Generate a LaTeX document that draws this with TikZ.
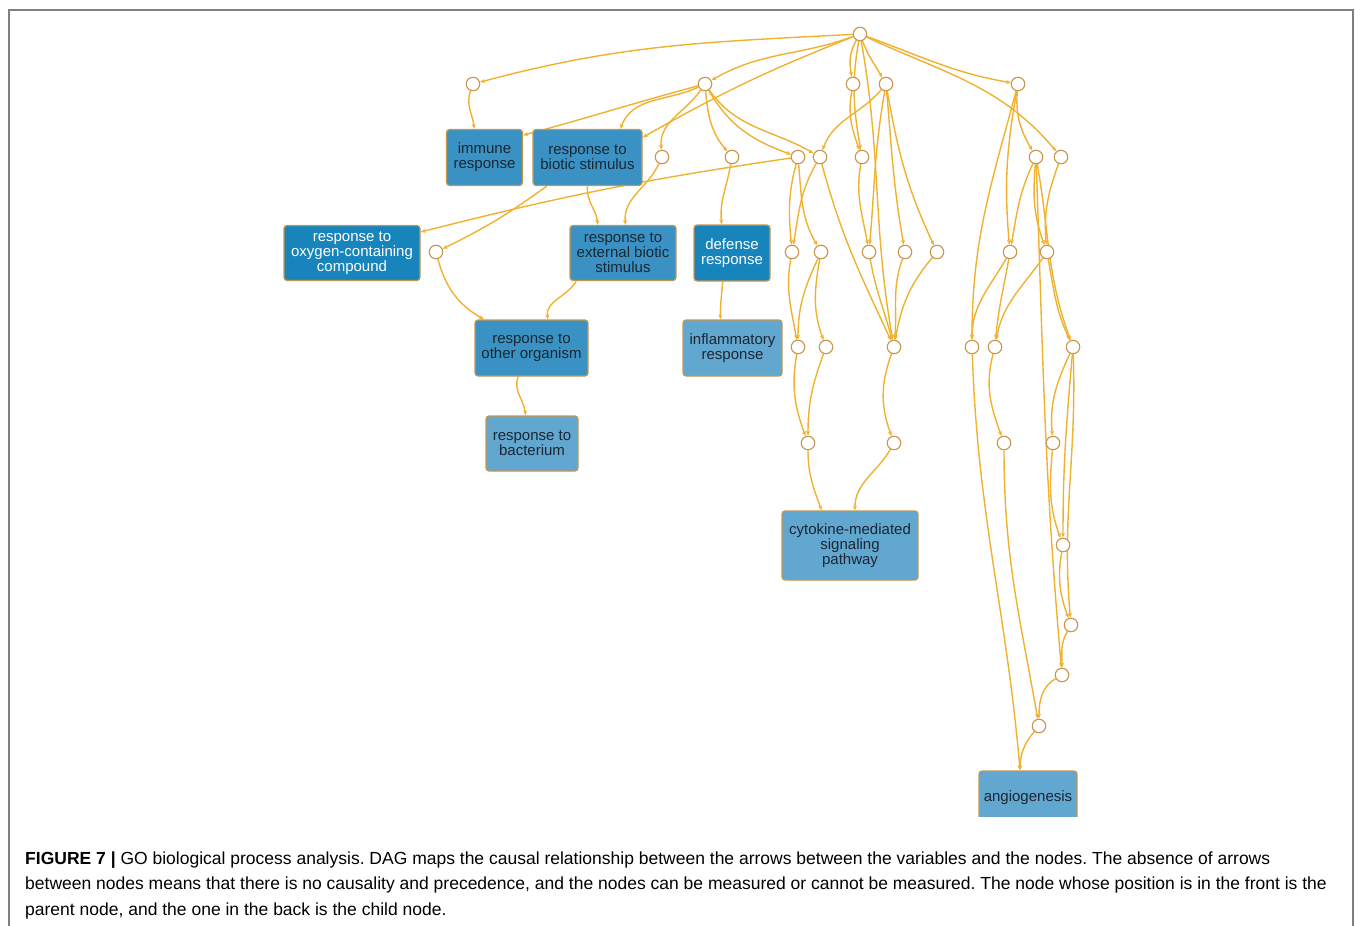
\documentclass[tikz,border=0pt]{standalone}
\usepackage{fontspec}
\setmainfont{Liberation Sans}
\usepackage{tikz}
\usetikzlibrary{arrows.meta,backgrounds}
\frenchspacing
\definecolor{edgegold}{HTML}{F0B12E}
\definecolor{ringtan}{HTML}{C8964E}
\definecolor{boxrim}{HTML}{C4974F}
\definecolor{godeep}{HTML}{1784BC}
\definecolor{gomid}{HTML}{3A92C4}
\definecolor{golite}{HTML}{62A7CF}
\definecolor{goink}{HTML}{1B2633}
\definecolor{framegray}{HTML}{808080}
\tikzset{
  term/.style={draw=boxrim,line width=1.2pt,rounded corners=3pt,align=center,inner sep=0pt,font=\fontsize{15}{15}\selectfont,text=goink},
  deep/.style={term,fill=godeep,text=white},
  mid/.style={term,fill=gomid},
  lite/.style={term,fill=golite},
  knot/.style={circle,draw=ringtan,fill=white,line width=1.1pt,minimum size=13.5pt,inner sep=0pt},
  link/.style={-{Stealth[length=5pt,width=4pt]},draw=edgegold,line width=1.4pt},
  capline/.style={anchor=base west,inner sep=0pt,font=\fontsize{17.5}{20}\selectfont,text=black},
}

\begin{document}
\begin{tikzpicture}[x=1pt,y=-1pt]
  \useasboundingbox (0,0) rectangle (1355,926);
  \draw[framegray,line width=1.5pt] (9,926) -- (9,10) -- (1353,10) -- (1353,926);

  % hubs
  \node[knot] (t0) at (860,34) {};
  \node[knot] (a1) at (473,84) {};
  \node[knot] (a2) at (705,84) {};
  \node[knot] (a3) at (853,84) {};
  \node[knot] (a4) at (886,84) {};
  \node[knot] (a5) at (1018,84) {};
  \node[knot] (b1) at (662,157) {};
  \node[knot] (b2) at (732,157) {};
  \node[knot] (b3) at (798,157) {};
  \node[knot] (b4) at (820,157) {};
  \node[knot] (b5) at (862,157) {};
  \node[knot] (b6) at (1036,157) {};
  \node[knot] (b7) at (1061,157) {};
  \node[knot] (c1) at (436,252) {};
  \node[knot] (c2) at (792,252) {};
  \node[knot] (c3) at (821,252) {};
  \node[knot] (c4) at (869,252) {};
  \node[knot] (c5) at (905,252) {};
  \node[knot] (c6) at (937,252) {};
  \node[knot] (c7) at (1010,252) {};
  \node[knot] (c8) at (1047,252) {};
  \node[knot] (d1) at (798,347) {};
  \node[knot] (d2) at (826,347) {};
  \node[knot] (d3) at (894,347) {};
  \node[knot] (d4) at (972,347) {};
  \node[knot] (d5) at (995,347) {};
  \node[knot] (d6) at (1073,347) {};
  \node[knot] (e1) at (808,443) {};
  \node[knot] (e2) at (894,443) {};
  \node[knot] (e3) at (1004,443) {};
  \node[knot] (e4) at (1053,443) {};
  \node[knot] (f1) at (1063,545) {};
  \node[knot] (g1) at (1071,625) {};
  \node[knot] (h1) at (1062,675) {};
  \node[knot] (i1) at (1039,726) {};

  % GO terms
  \node[mid,minimum width=76pt,minimum height=56pt] (imm) at (484.5,157.5) {immune\\response};
  \node[mid,minimum width=109pt,minimum height=56pt] (bio) at (587.5,157.5) {response to\\biotic stimulus};
  \node[deep,minimum width=136pt,minimum height=55pt] (oxy) at (352,253) {response to\\oxygen-containing\\compound};
  \node[mid,minimum width=106pt,minimum height=55pt] (ext) at (623,253) {response to\\external biotic\\stimulus};
  \node[deep,minimum width=76pt,minimum height=56pt] (def) at (732,253) {defense\\response};
  \node[mid,minimum width=113pt,minimum height=56pt] (oth) at (531.5,348) {response to\\other organism};
  \node[lite,minimum width=99pt,minimum height=56pt] (inf) at (732.5,348) {inflammatory\\response};
  \node[lite,minimum width=92pt,minimum height=55pt] (bac) at (532,443.5) {response to\\bacterium};
  \node[lite,minimum width=136pt,minimum height=69pt] (cyt) at (850,545.5) {cytokine-mediated\\signaling\\pathway};
  \begin{scope}
    \clip (900,700) rectangle (1150,816);
    \node[lite,minimum width=98pt,minimum height=54pt] (ang) at (1028,798) {angiogenesis};
  \end{scope}

  \begin{scope}[on background layer]
    % from the root
    \draw[link] (t0) to[out=183,in=15] (a1);
    \draw[link] (t0) to[out=200,in=30] (a2);
    \draw[link] (t0) to[bend right=4] (bio.20);
    \draw[link] (t0) to[out=240,in=100] (a3);
    \draw[link] (t0) to[out=-70,in=120] (a4);
    \draw[link] (t0) to[out=-100,in=100] (b5);
    \draw[link] (t0) to[out=-80,in=100] (d3);
    \draw[link] (t0) to[out=-20,in=170] (a5);
    \draw[link] (t0) to[out=-25,in=130] (b7);
    % left branch
    \draw[link] (a1) to[out=-110,in=95] (imm.110);
    \draw[link] (a2) to[out=195,in=15] (imm.30);
    \draw[link] (a2) to[out=205,in=70] (bio.41);
    \draw[link] (a2) to[out=235,in=95] (b1);
    \draw[link] (a2) to[out=-85,in=130] (b2);
    \draw[link] (a2) to[out=-60,in=160] (b3);
    \draw[link] (a2) to[out=-55,in=150] (b4);
    \draw[link] (bio.south) to[out=-95,in=95] (ext.132);
    \draw[link] (b1) to[out=-115,in=95] (ext.85);
    \draw[link] (bio.215) to[bend left=5] (c1);
    \draw[link] (b3) to[bend right=3] (oxy.17);
    \draw[link] (c1) to[out=-75,in=150] (oth.149);
    \draw[link] (ext.211) to[out=-120,in=100] (oth.60);
    \draw[link] (oth.-115) to[out=-110,in=95] (bac.103);
    \draw[link] (b2) to[out=-100,in=95] (def.110);
    \draw[link] (def.-108) to[out=-95,in=90] (inf.113);
    % middle branch
    \draw[link] (a3) to[out=-100,in=110] (b5);
    \draw[link] (a4) to[out=-130,in=70] (b4);
    \draw[link] (a4) to[out=-100,in=85] (c4);
    \draw[link] (a4) to[out=-85,in=100] (c5);
    \draw[link] (a4) to[out=-80,in=115] (c6);
    \draw[link] (b3) to[out=-105,in=95] (c2);
    \draw[link] (b3) to[out=-85,in=120] (c3);
    \draw[link] (b4) to[out=-120,in=80] (c2);
    \draw[link] (b4) to[out=-75,in=115] (d3);
    \draw[link] (b5) to[out=-100,in=100] (c4);
    \draw[link] (c2) to[out=-100,in=100] (d1);
    \draw[link] (c3) to[out=-115,in=90] (d1);
    \draw[link] (c3) to[out=-100,in=110] (d2);
    \draw[link] (c4) to[out=-80,in=105] (d3);
    \draw[link] (c5) to[out=-110,in=85] (d3);
    \draw[link] (c6) to[out=-130,in=80] (d3);
    \draw[link] (d1) to[out=-100,in=110] (e1);
    \draw[link] (d2) to[out=-110,in=90] (e1);
    \draw[link] (d3) to[out=-110,in=110] (e2);
    \draw[link] (e1) to[out=-90,in=110] (cyt.129);
    \draw[link] (e2) to[out=-120,in=90] (cyt.82);
    % right branch
    \draw[link] (a5) to[out=-95,in=120] (b6);
    \draw[link] (a5) to[out=-100,in=95] (c7);
    \draw[link] (a5) to[out=-105,in=90] (d4);
    \draw[link] (b6) to[out=-115,in=80] (c7);
    \draw[link] (b6) to[out=-95,in=110] (c8);
    \draw[link] (b7) to[out=-110,in=95] (c8);
    \draw[link] (b6) to[out=-88,in=95] (h1);
    \draw[link] (b6) to[out=-80,in=110] (d6);
    \draw[link] (c7) to[out=-120,in=90] (d4);
    \draw[link] (c7) to[out=-100,in=85] (d5);
    \draw[link] (c8) to[out=-125,in=80] (d5);
    \draw[link] (c8) to[out=-80,in=115] (d6);
    \draw[link] (d4) to[out=-88,in=95] (ang.106);
    \draw[link] (d5) to[out=-105,in=110] (e3);
    \draw[link] (d6) to[out=-115,in=95] (e4);
    \draw[link] (d6) to[out=-95,in=90] (f1);
    \draw[link] (e4) to[out=-95,in=110] (f1);
    \draw[link] (d6) to[out=-88,in=95] (g1);
    \draw[link] (f1) to[out=-100,in=110] (g1);
    \draw[link] (g1) to[out=-120,in=90] (h1);
    \draw[link] (h1) to[out=-150,in=90] (i1);
    \draw[link] (e3) to[out=-90,in=100] (i1);
    \draw[link] (i1) to[out=-130,in=90] (ang.106);
  \end{scope}

  % caption
  \node[capline] (cap1) at (25,864) {\textbf{FIGURE 7 |} GO biological process analysis. DAG maps the causal relationship between the arrows between the variables and the nodes. The absence of arrows};
  \node[capline] (cap2) at (25,889.5) {between nodes means that there is no causality and precedence, and the nodes can be measured or cannot be measured. The node whose position is in the front is the};
  \node[capline] (cap3) at (25,915) {parent node, and the one in the back is the child node.};
\end{tikzpicture}
\end{document}
